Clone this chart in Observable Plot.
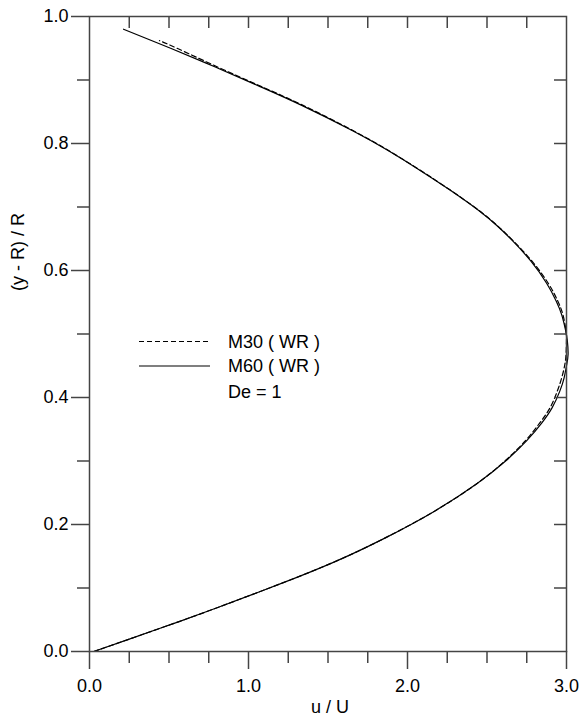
<!DOCTYPE html>
<html><head><meta charset="utf-8">
<script src="https://cdn.jsdelivr.net/npm/d3@7"></script>
<script src="https://cdn.jsdelivr.net/npm/@observablehq/plot@0.6"></script>
<style>body{margin:0;background:#fff;} #chart{width:579px;height:721px;}</style>
</head><body><div id="chart"></div>
<script>
// M60 (WR) — solid curve
const m60U = [0.027, 0.25, 0.50, 0.755, 1.005, 1.215, 1.53, 1.845, 2.17, 2.44, 2.615, 2.75, 2.845, 2.91, 2.958, 2.985, 3.0, 3.01, 3.005, 2.995, 2.97, 2.935, 2.875, 2.775, 2.66, 2.565, 2.45, 2.265, 2.065, 1.87, 1.655, 1.335, 1.07, 0.795, 0.51, 0.214];
const m60Y = [0.0, 0.0195, 0.0415, 0.0645, 0.088, 0.108, 0.14, 0.177, 0.221, 0.265, 0.2995, 0.332, 0.36, 0.384, 0.41, 0.431, 0.45, 0.468, 0.49, 0.505, 0.53, 0.552, 0.58, 0.615, 0.647, 0.67, 0.694, 0.727, 0.76, 0.79, 0.82, 0.86, 0.89, 0.92, 0.95, 0.98];
// M30 (WR) — dashed curve
const m30U = [0.027, 0.25, 0.50, 0.755, 1.005, 1.215, 1.53, 1.845, 2.17, 2.44, 2.61, 2.742, 2.832, 2.897, 2.942, 2.97, 2.988, 2.997, 3.0, 2.997, 2.978, 2.945, 2.885, 2.782, 2.664, 2.568, 2.452, 2.267, 2.067, 1.873, 1.66, 1.343, 1.078, 0.81, 0.55, 0.44];
const m30Y = [0.0, 0.0195, 0.0415, 0.0645, 0.088, 0.108, 0.14, 0.177, 0.221, 0.265, 0.2995, 0.332, 0.36, 0.384, 0.41, 0.431, 0.45, 0.468, 0.49, 0.505, 0.53, 0.552, 0.58, 0.615, 0.647, 0.67, 0.694, 0.727, 0.76, 0.79, 0.82, 0.86, 0.89, 0.92, 0.95, 0.962];

const xMajorTicks = [0, 1, 2, 3];
const xMinorTicks = [0.25, 0.5, 0.75, 1.25, 1.5, 1.75, 2.25, 2.5, 2.75];
const xTopTicks = [0.25, 0.5, 0.75, 1, 1.25, 1.5, 1.75, 2, 2.25, 2.5, 2.75];
const yMajorTicks = [0, 0.2, 0.4, 0.6, 0.8, 1.0];
const yMinorTicks = [0.1, 0.3, 0.5, 0.7, 0.9];
const yRightTicks = [0.1, 0.2, 0.3, 0.4, 0.5, 0.6, 0.7, 0.8, 0.9];
const xTitle = "u / U";
const yTitle = "(y - R) / R";
const legendLabels = ["M30 ( WR )", "M60 ( WR )", "De = 1"];

const W = 579, H = 721, mL = 89, mR = 13, mT = 16, mB = 70;
const fw = W - mL - mR, fh = H - mT - mB;
const m60 = m60U.map((u, i) => ({u, y: m60Y[i]}));
const m30 = m30U.map((u, i) => ({u, y: m30Y[i]}));
const axisColor = "#444";
const font = "'Liberation Sans', Arial, Helvetica, sans-serif";

const plot = Plot.plot({
  width: W, height: H,
  marginLeft: mL, marginRight: mR, marginTop: mT, marginBottom: mB,
  style: {fontFamily: font, fontSize: "18px", color: "black", background: "white"},
  x: {domain: [0, 3], label: null},
  y: {domain: [0, 1], label: null},
  marks: [
    Plot.line(m30, {x: "u", y: "y", stroke: "black", strokeWidth: 1.2, strokeDasharray: "5,3", curve: "natural"}),
    Plot.line(m60, {x: "u", y: "y", stroke: "black", strokeWidth: 1.2, curve: "natural"}),
    Plot.frame({stroke: axisColor, strokeWidth: 1.5}),
    Plot.ruleX(xTopTicks, {x: d => d, insetBottom: fh - 12, stroke: axisColor, strokeWidth: 1.5}),
    Plot.ruleY(yRightTicks, {y: d => d, insetLeft: fw - 12, stroke: axisColor, strokeWidth: 1.5}),
    Plot.axisX(xMinorTicks, {anchor: "bottom", tickSize: 12, tickFormat: () => "", stroke: axisColor, strokeWidth: 1.5, label: null}),
    Plot.axisX(xMajorTicks, {anchor: "bottom", tickSize: 18, tickPadding: 10, tickFormat: d => d.toFixed(1), stroke: axisColor, fill: "black", strokeWidth: 1.5, fontSize: 18, label: null}),
    Plot.axisY(yMinorTicks, {anchor: "left", tickSize: 12, tickFormat: () => "", stroke: axisColor, strokeWidth: 1.5, label: null}),
    Plot.axisY(yMajorTicks, {anchor: "left", tickSize: 18, tickPadding: 3, tickFormat: d => d.toFixed(1), stroke: axisColor, fill: "black", strokeWidth: 1.5, fontSize: 18, label: null}),
    Plot.text([xTitle], {text: d => d, frameAnchor: "bottom", dx: 2, dy: 61, fontSize: 18, fill: "black"}),
    Plot.text([yTitle], {text: d => d, frameAnchor: "left", rotate: -90, dx: -71, dy: -43, fontSize: 18, fill: "black"})
  ]
});

// legend
const svg = d3.select(plot);
const lg = svg.append("g").attr("font-family", font).attr("font-size", 18).attr("text-anchor", "start");
const legendY = [341.5, 366, 392];
["5,3", null].forEach((dash, i) => {
  const l = lg.append("line").attr("x1", 139).attr("x2", 210)
    .attr("y1", legendY[i]).attr("y2", legendY[i])
    .attr("stroke", "black").attr("stroke-width", 1.2);
  if (dash) l.attr("stroke-dasharray", dash);
});
legendLabels.forEach((t, i) => {
  lg.append("text").attr("x", 228).attr("y", legendY[i]).attr("dy", "0.35em")
    .attr("text-anchor", "start").attr("fill", "black").text(t);
});
document.getElementById("chart").appendChild(plot);
</script>
</body></html>
